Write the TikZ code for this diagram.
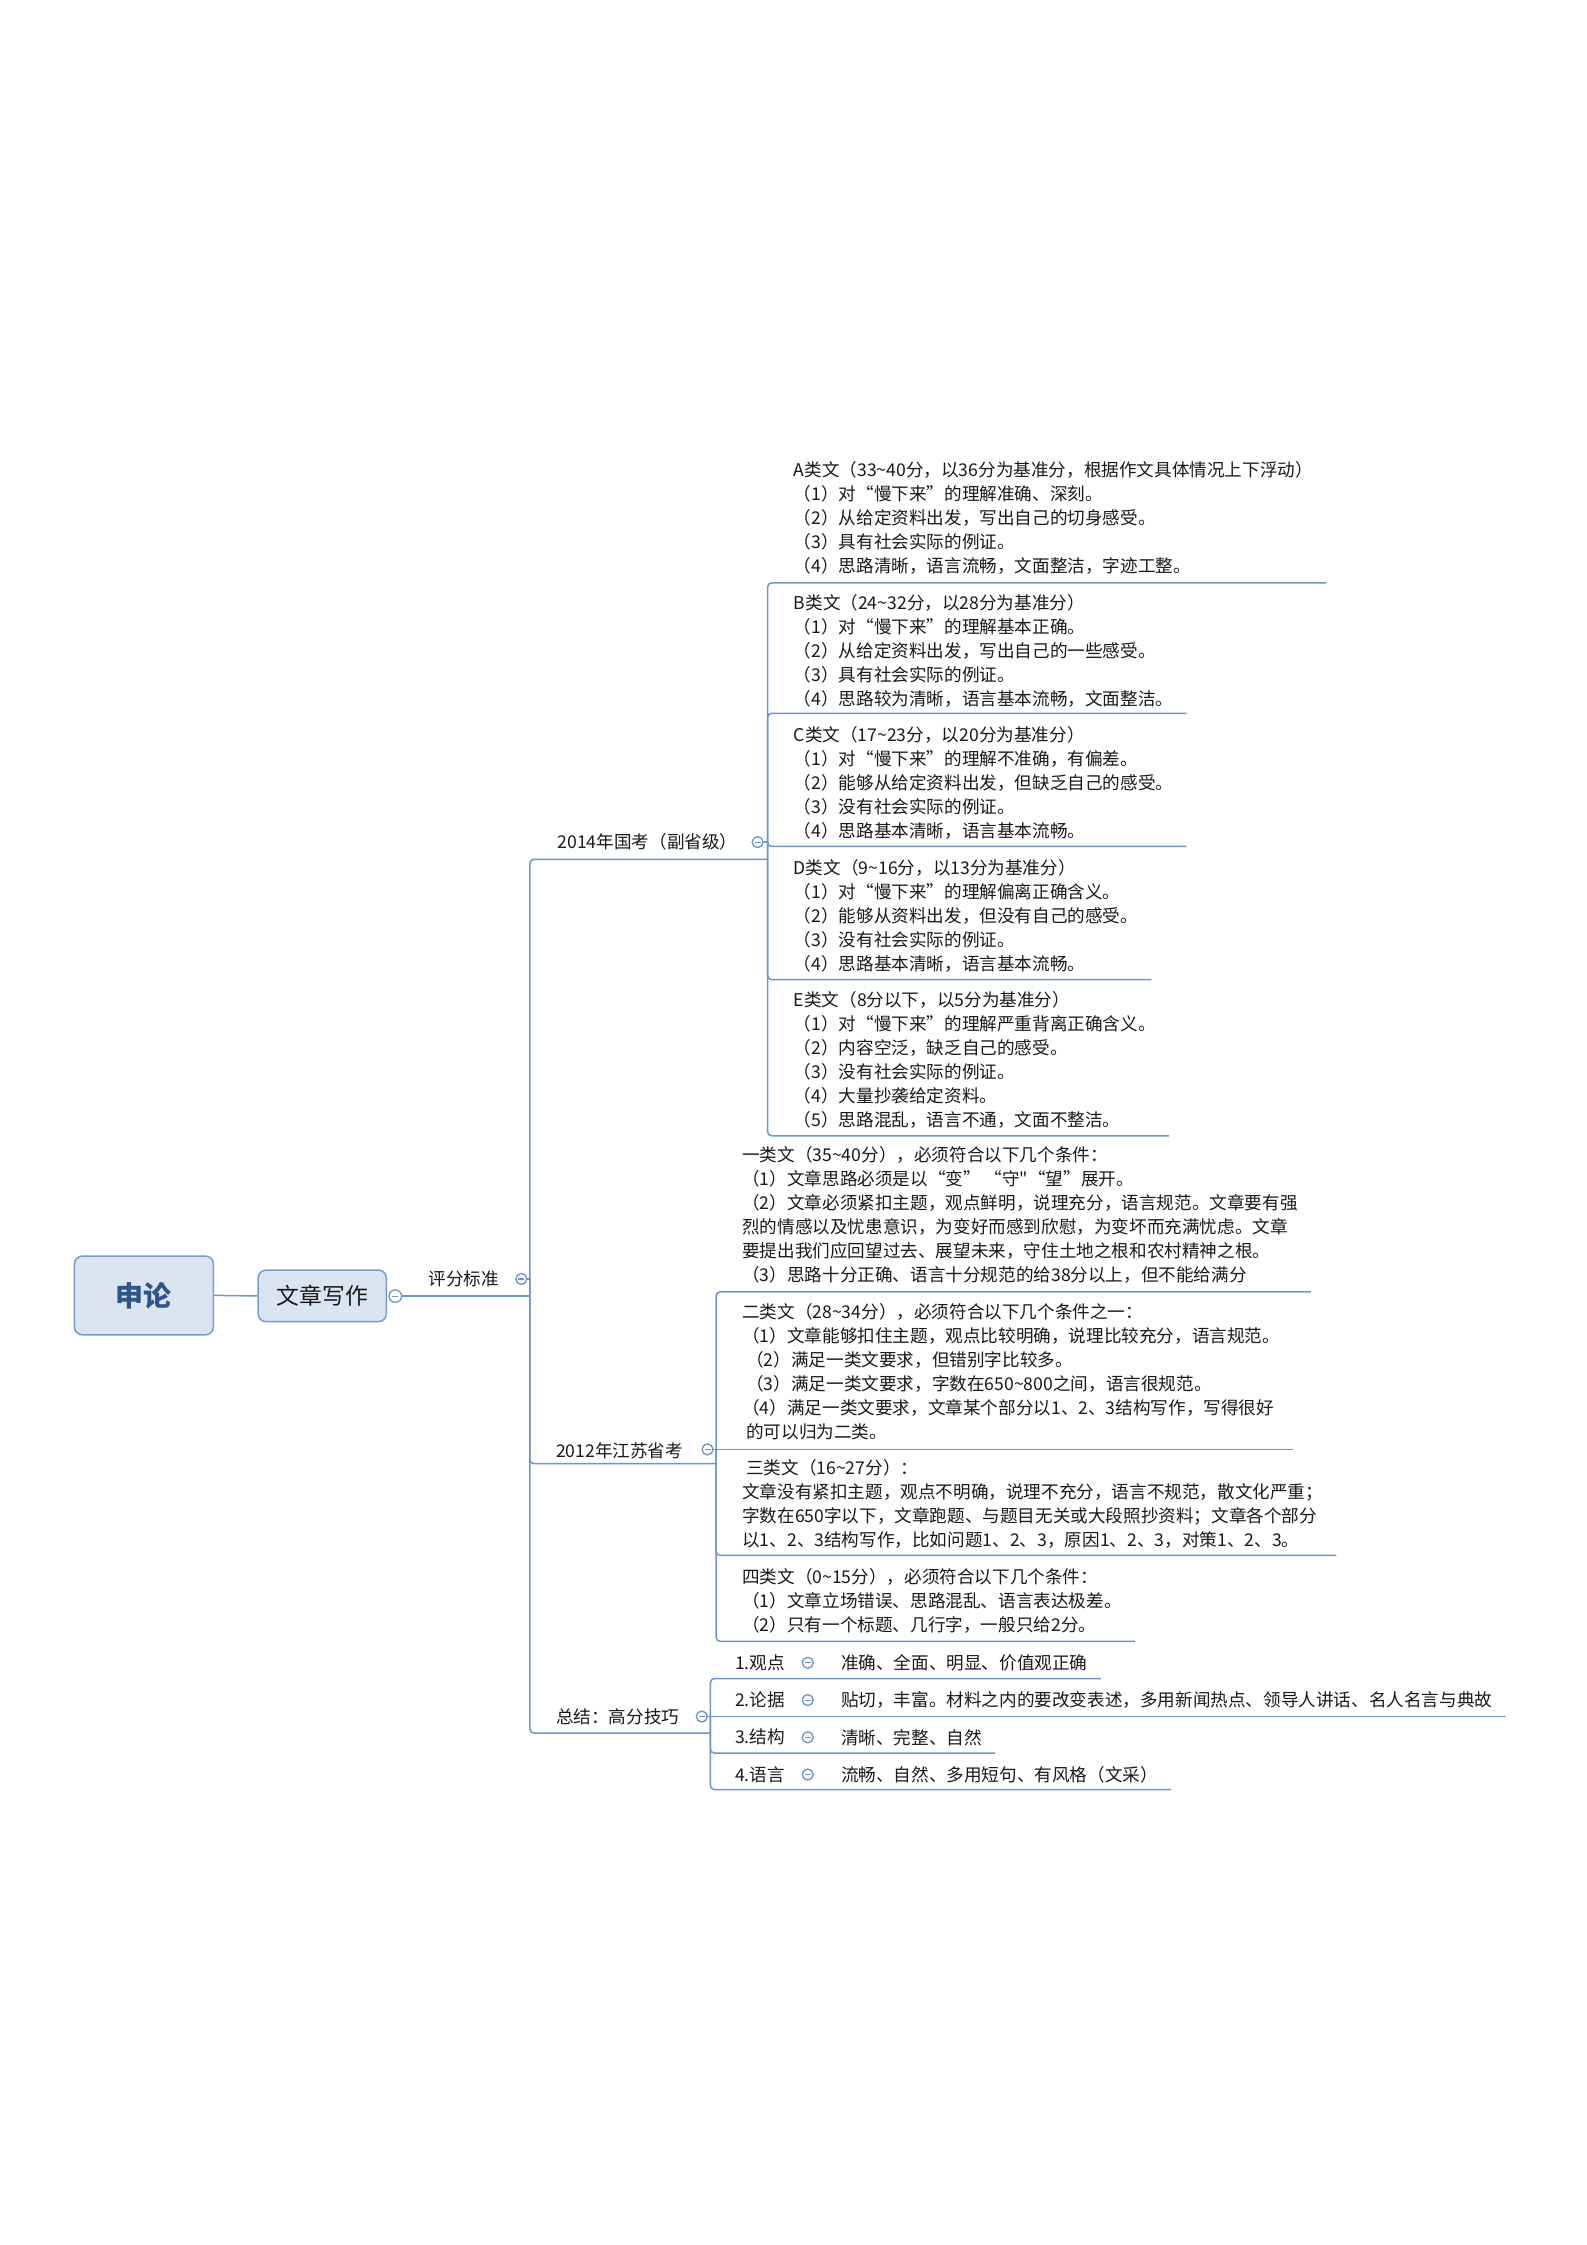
\documentclass[tikz,border=0pt]{standalone}
\usepackage{fontspec}
\setmainfont{Noto Sans CJK SC}
\newfontfamily\plainf{Noto Sans CJK SC}
\usetikzlibrary{calc}
\definecolor{linec}{RGB}{110,150,202}
\definecolor{boxfill}{RGB}{219,229,242}
\definecolor{boxdraw}{RGB}{118,155,208}
\definecolor{rootc}{RGB}{45,85,135}
\definecolor{txt}{RGB}{25,25,25}
\newcommand\tld{\char"7E\relax}
\begin{document}
\begin{tikzpicture}[x=0.71616pt, y=-0.71616pt,
  conn/.style={draw=linec, line width=0.75pt, rounded corners=2pt},
  body/.style={font=\fontsize{8.8}{12}\selectfont, text=txt, align=left, inner sep=0pt, anchor=west},
  lab/.style={font=\fontsize{8.8}{12}\selectfont, text=txt, inner sep=0pt, anchor=west},
  tog/.style={circle, draw=linec, fill=white, line width=0.6pt, minimum size=5.4pt, inner sep=0pt,
    path picture={\draw[linec, line width=0.55pt] ([xshift=-1.5pt]path picture bounding box.center) -- ([xshift=1.5pt]path picture bounding box.center);}},
  topbox/.style={draw=boxdraw, fill=boxfill, rounded corners=4pt, line width=0.75pt, inner sep=0pt}
]
\fill[white] (0,0) rectangle (1108,1567.5);
\useasboundingbox (0,0) rectangle (1108,1567.5);

% ---------- nodes ----------
\node[topbox, minimum width=69.5pt, minimum height=39.4pt, font=\fontsize{14}{16}\selectfont\bfseries, text=rootc] (root) at (100.5,904.5) {申论};
\node[topbox, minimum width=64.1pt, minimum height=25.8pt, font=\fontsize{11.4}{14}\selectfont, text=txt] (wz) at (225,904.8) {文章写作};

\node[lab] (pf) at (299,893) {评分标准};
\node[lab] (g14) at (389,588) {2014年国考（副省级）};
\node[lab] (j12) at (388,1013) {2012年江苏省考};
\node[lab] (zj) at (388,1199) {总结：高分技巧};

\node[body] (A) at (554,361.5) {A类文（33\tld40分，以36分为基准分，根据作文具体情况上下浮动）\\（1）对“慢下来”的理解准确、深刻。\\（2）从给定资料出发，写出自己的切身感受。\\（3）具有社会实际的例证。\\（4）思路清晰，语言流畅，文面整洁，字迹工整。};
\node[body] (B) at (554,454.5) {B类文（24\tld32分，以28分为基准分）\\（1）对“慢下来”的理解基本正确。\\（2）从给定资料出发，写出自己的一些感受。\\（3）具有社会实际的例证。\\（4）思路较为清晰，语言基本流畅，文面整洁。};
\node[body] (C) at (554,546.5) {C类文（17\tld23分，以20分为基准分）\\（1）对“慢下来”的理解不准确，有偏差。\\（2）能够从给定资料出发，但缺乏自己的感受。\\（3）没有社会实际的例证。\\（4）思路基本清晰，语言基本流畅。};
\node[body] (D) at (554,639.5) {D类文（9\tld16分，以13分为基准分）\\（1）对“慢下来”的理解偏离正确含义。\\（2）能够从资料出发，但没有自己的感受。\\（3）没有社会实际的例证。\\（4）思路基本清晰，语言基本流畅。};
\node[body] (E) at (554,740) {E类文（8分以下，以5分为基准分）\\（1）对“慢下来”的理解严重背离正确含义。\\（2）内容空泛，缺乏自己的感受。\\（3）没有社会实际的例证。\\（4）大量抄袭给定资料。\\（5）思路混乱，语言不通，文面不整洁。};

\node[body] (Y1) at (518,848.5) {一类文（35\tld40分），必须符合以下几个条件：\\（1）文章思路必须是以“变” “守{\plainf"}“望”展开。\\（2）文章必须紧扣主题，观点鲜明，说理充分，语言规范。文章要有强\\烈的情感以及忧患意识，为变好而感到欣慰，为变坏而充满忧虑。文章\\要提出我们应回望过去、展望未来，守住土地之根和农村精神之根。\\（3）思路十分正确、语言十分规范的给38分以上，但不能给满分};
\node[body] (Y2) at (518,958) {二类文（28\tld34分），必须符合以下几个条件之一：\\（1）文章能够扣住主题，观点比较明确，说理比较充分，语言规范。\\\hspace{2pt}（2）满足一类文要求，但错别字比较多。\\\hspace{2pt}（3）满足一类文要求，字数在650\tld800之间，语言很规范。\\（4）满足一类文要求，文章某个部分以1、2、3结构写作，写得很好\\\hspace{2pt}的可以归为二类。};
\node[body] (Y3) at (518,1050) {\hspace{2pt}三类文（16\tld27分）：\\文章没有紧扣主题，观点不明确，说理不充分，语言不规范，散文化严重；\\字数在650字以下，文章跑题、与题目无关或大段照抄资料；文章各个部分\\以1、2、3结构写作，比如问题1、2、3，原因1、2、3，对策1、2、3。};
\node[body] (Y4) at (518,1118) {四类文（0\tld15分），必须符合以下几个条件：\\（1）文章立场错误、思路混乱、语言表达极差。\\（2）只有一个标题、几行字，一般只给2分。};

\node[lab] (k1) at (513,1161) {1.观点};
\node[lab] (k2) at (513,1187) {2.论据};
\node[lab] (k3) at (513,1213) {3.结构};
\node[lab] (k4) at (513,1239) {4.语言};
\node[lab] (d1) at (587,1161) {准确、全面、明显、价值观正确};
\node[lab] (d2) at (587,1187) {贴切，丰富。材料之内的要改变表述，多用新闻热点、领导人讲话、名人名言与典故};
\node[lab] (d3) at (587,1213) {清晰、完整、自然};
\node[lab] (d4) at (587,1239) {流畅、自然、多用短句、有风格（文采）};

% ---------- helper coordinates ----------
\coordinate (T) at (370,893);
\coordinate (S14) at (536,588);
\coordinate (S12) at (500,1012);
\coordinate (SZ) at (496,1198.5);
\foreach \n/\y in {A/407,B/498,C/591,D/684,E/793,Y1/902,Y2/1012,Y3/1086,Y4/1146,d1/1172,d2/1198.5,d3/1224,d4/1249.5}{
  \coordinate (y\n) at (0,\y);
  \coordinate (\n e) at ($(\n.east |- y\n)+(9,0)$);
}

% ---------- toggles (named) ----------
\node[tog, minimum size=6.2pt] (c0) at (276,905) {};
\node[tog] (c1) at (364,893) {};
\node[tog] (c14) at (529,588) {};
\node[tog] (c12) at (494,1012) {};
\node[tog] (cz) at (490,1198.5) {};
\node[tog] (t1) at (564,1161) {};
\node[tog] (t2) at (564,1187) {};
\node[tog] (t3) at (564,1213) {};
\node[tog] (t4) at (564,1239) {};

% ---------- connectors ----------
\draw[conn] (root.east) to[out=0,in=180] (wz.west);
\draw[conn] (c0.east) -- (370,905);
\draw[conn] (c1.east) -- (T);
\draw[conn] (T) |- (536,600);
\draw[conn] (T) |- (500,1022);
\draw[conn] (T) |- (496,1210);

\draw[conn] (c14.east) -- (S14);
\draw[conn] (S14) |- (Ae);
\draw[conn] (S14) |- (Be);
\draw[conn] (S14) -- (536,591) -- (Ce);
\draw[conn] (S14) |- (De);
\draw[conn] (S14) |- (Ee);

\draw[conn] (c12.east) -- (S12);
\draw[conn] (S12) |- (Y1e);
\draw[conn] (S12) -- (Y2e);
\draw[conn] (S12) |- (Y3e);
\draw[conn] (S12) |- (Y4e);

\draw[conn] (cz.east) -- (SZ);
\draw[conn] (SZ) |- (d1e);
\draw[conn] (SZ) -- (d2e);
\draw[conn] (SZ) |- (d3e);
\draw[conn] (SZ) |- (d4e);

% toggles redrawn on top of the connectors
\foreach \p/\s in {{276,905}/6.2pt, {364,893}/5.4pt, {529,588}/5.4pt, {494,1012}/5.4pt, {490,1198.5}/5.4pt, {564,1161}/5.4pt, {564,1187}/5.4pt, {564,1213}/5.4pt, {564,1239}/5.4pt}{
  \node[tog, minimum size=\s] at (\p) {};
}
\end{tikzpicture}
\end{document}
